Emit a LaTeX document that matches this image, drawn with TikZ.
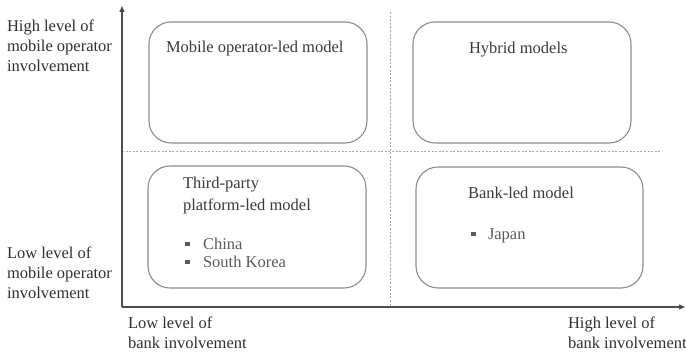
\documentclass[tikz,border=0pt]{standalone}
\usepackage{fontspec}
\setmainfont{Liberation Serif}
\usetikzlibrary{arrows.meta}
\definecolor{axiscol}{HTML}{4D4D4D}
\definecolor{boxcol}{HTML}{8C8C8C}
\definecolor{dashcol}{HTML}{A8A8A8}
\definecolor{titlecol}{HTML}{3A3A3A}
\definecolor{itemcol}{HTML}{5A5A5A}
\definecolor{labelcol}{HTML}{303030}
\begin{document}
\begin{tikzpicture}[x=1pt,y=-1pt,
  every node/.style={inner sep=0pt,outer sep=0pt},
  txt/.style={anchor=base west,font=\fontsize{16.5}{20}\selectfont},
  lbl/.style={txt,text=labelcol},
  ttl/.style={txt,text=titlecol},
  itm/.style={txt,text=itemcol},
  quad/.style={draw=boxcol,line width=1.1pt,rounded corners=22pt,fill=none},
  bul/.style={fill=itemcol,minimum size=4.5pt,inner sep=0pt},
  axis/.style={draw=axiscol,line width=1.4pt,-{Triangle[length=6pt,width=5pt]}},
  divider/.style={draw=dashcol,line width=0.9pt,dash pattern=on 2pt off 1.6pt}]
\useasboundingbox (0,0) rectangle (686,353);
% quadrant boxes
\draw[quad] (149,22) rectangle (367,143);
\draw[quad] (413,22) rectangle (631,143);
\draw[quad] (148,166) rectangle (366,288);
\draw[quad] (416,167) rectangle (643,288);
% dashed dividers
\coordinate (hd1) at (122,151);
\coordinate (hd2) at (661,151);
\coordinate (vd1) at (390,12);
\coordinate (vd2) at (390,306);
\draw[divider] (hd1) -- (hd2);
\draw[divider] (vd1) -- (vd2);
% axes
\coordinate (origin) at (122,307);
\coordinate (ytip) at (122,6);
\coordinate (xtip) at (685,307);
\draw[axis] (origin) -- (ytip);
\draw[axis] (origin) -- (xtip);
% axis labels
\node[lbl] (hm1) at (7,32) {High level of};
\node[lbl] (hm2) at (7,52) {mobile operator};
\node[lbl] (hm3) at (7,72) {involvement};
\node[lbl] (lm1) at (7,258) {Low level of};
\node[lbl] (lm2) at (7,278) {mobile operator};
\node[lbl] (lm3) at (7,298) {involvement};
\node[lbl] (lb1) at (128,328) {Low level of};
\node[lbl] (lb2) at (128,348) {bank involvement};
\node[lbl] (hb1) at (568,328) {High level of};
\node[lbl] (hb2) at (568,348) {bank involvement};
% titles
\node[ttl] (t1) at (166,53) {Mobile operator-led model};
\node[ttl] (t2) at (469,54) {Hybrid models};
\node[ttl] (t3a) at (183,188) {Third-party};
\node[ttl] (t3b) at (183,210) {platform-led model};
\node[ttl] (t4) at (468,198) {Bank-led model};
% items
\node[bul] (b1) at (187.5,244) {};
\node[itm] (i1) at (203,249) {China};
\node[bul] (b2) at (187.5,262) {};
\node[itm] (i2) at (203,267) {South Korea};
\node[bul] (b3) at (473.5,234) {};
\node[itm] (i3) at (488,239) {Japan};
\end{tikzpicture}
\end{document}
